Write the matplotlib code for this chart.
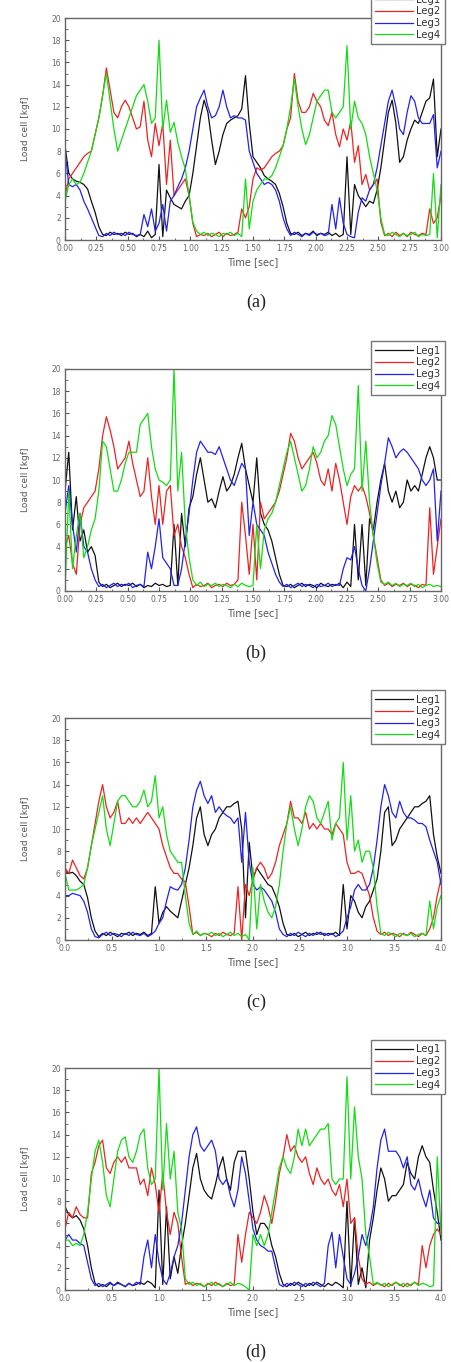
import matplotlib
matplotlib.use('Agg')
import matplotlib.pyplot as plt
import numpy as np
from matplotlib.ticker import MultipleLocator, FormatStrFormatter

# sample times (101 samples per record)
time_ab = np.arange(101) * 0.03
time_cd = np.arange(101) * 0.04

# ---- (a) ----
leg1_a = [8.5, 6.0, 5.5, 5.3, 5.2, 5.0, 4.6, 3.5, 2.5, 1.2,
          0.5, 0.4, 0.7, 0.5, 0.6, 0.4, 0.7, 0.5, 0.6, 0.3,
          0.5, 0.3, 0.8, 0.2, 0.5, 6.8, 0.3, 4.5, 3.8, 3.2,
          3.0, 2.8, 3.5, 4.0, 6.0, 8.5, 11.0, 12.6, 11.5, 9.0,
          6.8, 8.0, 9.5, 10.5, 10.8, 11.0, 11.2, 11.8, 14.8, 10.5,
          7.5, 7.0, 6.5, 5.8, 5.5, 5.3, 5.0, 4.2, 3.0, 1.5,
          0.6, 0.5, 0.7, 0.4, 0.6, 0.5, 0.8, 0.4, 0.6, 0.5,
          0.7, 0.4, 0.6, 0.3, 0.5, 7.5, 0.5, 5.0, 4.0, 3.5,
          3.0, 3.5, 3.3, 4.5, 6.5, 9.0, 11.5, 12.6, 10.5, 7.0,
          7.5, 9.0, 10.0, 10.8, 10.5, 11.5, 12.5, 12.8, 14.5, 7.5,
          10.0]
leg2_a = [4.0, 5.5, 6.0, 6.5, 7.0, 7.5, 7.8, 8.0, 9.5, 11.0,
          13.0, 15.5, 13.5, 11.5, 11.0, 12.0, 12.6, 12.0, 11.0, 10.0,
          10.2, 12.5, 9.0, 7.5, 10.5, 8.5, 10.5, 5.0, 9.0, 4.0,
          4.5, 5.0, 5.5, 4.0, 1.5, 0.3, 0.5, 0.4, 0.6, 0.3,
          0.5, 0.7, 0.3, 0.6, 0.4, 0.5, 0.7, 2.8, 2.0, 3.0,
          5.5, 6.5, 6.3, 6.5, 7.0, 7.5, 7.8, 8.0, 8.5, 10.0,
          11.0, 15.0, 12.5, 11.5, 11.5, 12.0, 13.2, 12.5, 12.0, 10.8,
          10.3, 11.5, 9.5, 8.4, 10.0, 9.0, 10.7, 7.0, 8.5, 5.0,
          5.9, 4.5, 5.0, 5.5, 1.6, 0.4, 0.6, 0.3, 0.7, 0.4,
          0.6, 0.3, 0.7, 0.5, 0.4, 0.6, 0.5, 2.8, 1.5, 2.0,
          4.0]
leg3_a = [8.0, 5.0, 4.8, 5.0, 4.5, 3.5, 2.8, 2.0, 1.2, 0.4,
          0.3, 0.6, 0.4, 0.7, 0.5, 0.6, 0.4, 0.7, 0.5, 0.4,
          0.5, 2.3, 1.2, 2.8, 0.8, 1.5, 3.2, 0.8, 3.5, 4.0,
          4.8, 5.5, 6.5, 8.0, 10.0, 12.0, 12.8, 13.5, 12.0, 11.0,
          11.2, 12.0, 13.5, 12.0, 11.0, 11.2, 11.0, 11.0, 10.8, 8.0,
          7.0, 6.0, 5.5, 5.0, 5.2, 5.0, 4.5, 3.5, 2.0, 1.0,
          0.4, 0.7, 0.5, 0.3, 0.6, 0.4, 0.7, 0.5, 0.6, 0.4,
          0.5, 3.2, 1.0, 3.8, 1.5, 0.5, 0.3, 0.2, 2.5, 3.8,
          3.5, 4.5, 5.0, 6.5, 8.5, 10.5, 12.5, 13.5, 12.0, 10.0,
          9.5, 11.5, 13.0, 12.5, 11.0, 10.5, 10.5, 10.5, 11.3, 6.5,
          8.0]
leg4_a = [3.5, 5.0, 5.5, 5.0, 5.2, 6.0, 7.0, 8.0, 9.5, 11.0,
          13.0, 15.0, 12.5, 10.0, 8.0, 9.0, 10.0, 11.0, 12.0, 13.0,
          13.5, 14.0, 12.5, 10.5, 11.0, 18.0, 10.0, 12.6, 9.7, 10.6,
          8.8, 7.5, 6.4, 4.0, 1.6, 0.8, 0.5, 0.7, 0.4, 0.6,
          0.5, 0.3, 0.6, 0.5, 0.7, 0.4, 0.6, 0.3, 5.5, 1.0,
          3.5, 4.5, 5.0, 5.5, 5.5, 5.8, 6.5, 7.5, 8.5, 10.0,
          12.0, 14.5, 12.0, 10.0, 8.6, 9.5, 11.0, 12.5, 13.0, 13.5,
          13.5, 11.5, 11.0, 11.5, 12.0, 17.5, 10.0, 12.5, 11.0, 10.5,
          9.5, 7.5, 6.0, 4.5, 2.0, 0.5, 0.4, 0.7, 0.5, 0.3,
          0.6, 0.4, 0.5, 0.7, 0.3, 0.5, 0.4, 0.5, 6.0, 0.2,
          5.0]

# ---- (b) ----
leg1_b = [9.0, 12.5, 5.5, 8.5, 4.5, 5.5, 3.5, 4.0, 3.2, 0.8,
          0.4, 0.6, 0.3, 0.5, 0.7, 0.4, 0.6, 0.5, 0.7, 0.4,
          0.6, 0.3, 0.5, 0.4, 0.7, 0.5, 0.6, 0.4, 0.5, 6.0,
          0.5, 7.0, 4.0, 7.5, 8.5, 10.5, 12.0, 10.0, 8.0, 8.3,
          7.5, 9.0, 10.3, 9.0, 9.5, 10.5, 12.0, 13.3, 11.0, 9.5,
          8.0, 12.0, 7.0, 6.0, 5.5, 4.5, 3.0, 1.5, 0.5, 0.4,
          0.6, 0.3, 0.5, 0.7, 0.4, 0.6, 0.5, 0.3, 0.7, 0.5,
          0.4, 0.6, 0.5, 0.7, 0.3, 0.8, 0.4, 6.0, 1.0, 6.0,
          0.5, 6.5, 5.5, 8.0, 10.0, 11.5, 9.0, 8.0, 9.0, 7.5,
          8.0, 10.0, 9.0, 9.5, 9.0, 10.5, 12.0, 13.0, 12.0, 10.0,
          10.0]
leg2_b = [4.0, 5.0, 2.5, 1.5, 6.0, 7.5, 8.0, 8.5, 9.0, 11.0,
          14.0, 15.7, 14.5, 13.0, 11.0, 11.5, 12.0, 13.5, 11.5, 10.0,
          8.5, 9.0, 12.0, 8.5, 6.0, 9.5, 6.0, 9.0, 9.5, 5.0,
          6.0, 4.0, 3.0, 1.5, 0.3, 0.6, 0.4, 0.5, 0.7, 0.3,
          0.5, 0.6, 0.4, 0.7, 0.5, 0.6, 1.0, 8.0, 5.0, 1.5,
          6.0, 1.0, 8.0, 6.5, 7.0, 7.5, 8.0, 9.0, 10.5, 12.0,
          14.2, 13.5, 12.0, 11.0, 11.5, 12.0, 12.5, 11.5, 10.0, 9.5,
          11.0, 9.0, 11.5, 10.0, 8.0, 6.0, 8.5, 9.5, 9.0, 9.5,
          8.5, 7.0, 5.0, 3.0, 1.0, 0.5, 0.7, 0.4, 0.6, 0.5,
          0.7, 0.4, 0.6, 0.5, 0.3, 0.6, 0.5, 7.5, 1.5, 4.0,
          6.5]
leg3_b = [7.0, 9.5, 6.0, 3.5, 7.0, 4.0, 3.5, 2.0, 1.0, 0.4,
          0.6, 0.3, 0.5, 0.7, 0.4, 0.6, 0.5, 0.7, 0.3, 0.5,
          0.6, 0.4, 3.5, 2.0, 4.0, 6.5, 3.0, 2.5, 2.0, 0.5,
          0.5, 2.0, 4.5, 7.0, 10.0, 12.5, 13.5, 13.0, 12.5, 12.5,
          12.3, 13.0, 12.0, 11.0, 10.0, 9.5, 10.5, 11.5, 11.0, 5.0,
          8.0, 6.0, 5.5, 5.0, 3.5, 2.5, 1.5, 0.8, 0.4, 0.6,
          0.3, 0.5, 0.7, 0.4, 0.6, 0.5, 0.3, 0.6, 0.4, 0.5,
          0.7, 0.4, 0.6, 0.5, 2.0, 3.0, 2.8, 4.0, 2.0, 0.5,
          0.0, 2.0, 4.5, 7.0, 9.5, 11.5, 13.8, 13.0, 12.0, 12.5,
          12.8, 12.5, 12.0, 11.5, 11.0, 10.0, 9.5, 10.0, 11.0, 4.5,
          9.0]
leg4_b = [0.0, 9.0, 2.0, 5.0, 7.0, 3.0, 4.0, 5.5, 6.5, 9.0,
          13.5, 13.0, 11.0, 9.0, 9.0, 10.0, 11.5, 12.5, 12.5, 12.5,
          15.0, 15.5, 16.0, 13.0, 11.0, 10.0, 9.8, 9.5, 10.0, 20.0,
          9.0, 12.5, 6.0, 3.0, 1.0, 0.5, 0.8, 0.4, 0.6, 0.5,
          0.7, 0.4, 0.6, 0.5, 0.3, 0.6, 0.4, 0.7, 0.5, 0.4,
          0.5, 6.0, 2.0, 5.5, 6.5, 7.0, 8.0, 9.5, 11.0, 12.5,
          13.5, 12.0, 10.5, 9.0, 9.5, 11.0, 13.0, 12.0, 12.5, 13.5,
          14.0, 15.8, 15.0, 13.0, 11.0, 9.5, 10.5, 11.0, 18.5, 9.0,
          13.5, 8.0, 5.0, 2.5, 0.8, 0.6, 0.8, 0.5, 0.7, 0.4,
          0.6, 0.5, 0.7, 0.4, 0.6, 0.3, 0.5, 0.6, 0.4, 0.5,
          0.4]

# ---- (c) ----
leg1_c = [6.2, 6.0, 6.1, 5.8, 5.3, 5.0, 3.8, 2.0, 0.8, 0.3,
          0.6, 0.4, 0.7, 0.5, 0.3, 0.6, 0.5, 0.7, 0.4, 0.6,
          0.5, 0.7, 0.4, 0.6, 4.8, 1.5, 2.5, 3.0, 2.6, 2.3,
          2.0, 3.5, 5.0, 6.5, 8.5, 11.0, 12.0, 9.5, 8.5, 9.5,
          10.0, 11.0, 11.5, 12.0, 12.0, 12.3, 12.5, 10.0, 2.0, 8.8,
          5.5, 6.5, 6.0, 5.5, 5.0, 4.8, 4.0, 3.0, 1.5, 0.5,
          0.4, 0.6, 0.3, 0.5, 0.7, 0.4, 0.6, 0.5, 0.7, 0.4,
          0.6, 0.5, 0.7, 0.4, 5.0, 1.0, 4.0, 3.5, 2.5, 2.0,
          3.0, 3.5, 4.5, 5.5, 8.0, 11.5, 12.0, 8.5, 9.0, 10.0,
          10.5, 11.0, 11.5, 12.0, 12.0, 12.3, 12.5, 13.0, 9.5, 7.5,
          6.0]
leg2_c = [6.5, 6.0, 7.2, 6.5, 5.8, 5.5, 6.5, 8.5, 10.5, 12.5,
          14.0, 12.0, 11.0, 11.5, 12.5, 10.5, 10.5, 11.0, 10.5, 11.0,
          10.5, 11.0, 11.5, 11.0, 10.5, 10.0, 8.5, 7.5, 6.5, 6.0,
          6.0, 5.5, 5.2, 3.0, 0.5, 0.7, 0.4, 0.6, 0.5, 0.3,
          0.6, 0.4, 0.7, 0.5, 0.4, 0.6, 4.8, 0.0, 5.0, 4.0,
          5.5, 6.5, 7.0, 6.5, 5.5, 6.0, 7.0, 8.5, 9.5, 10.5,
          12.5, 11.0, 11.0, 10.5, 11.5, 10.0, 10.5, 10.0, 10.5, 10.0,
          10.0, 9.5, 10.5, 10.0, 9.5, 7.0, 6.0, 6.0, 6.2, 6.0,
          5.0, 4.0, 2.0, 0.8, 0.5, 0.7, 0.4, 0.6, 0.5, 0.3,
          0.6, 0.4, 0.7, 0.5, 0.3, 0.6, 0.4, 1.0, 2.0, 4.0,
          5.5]
leg3_c = [4.0, 4.0, 4.2, 4.1, 4.0, 3.5, 2.5, 1.0, 0.3, 0.2,
          0.5, 0.7, 0.4, 0.6, 0.5, 0.3, 0.6, 0.4, 0.7, 0.5,
          0.4, 0.6, 0.3, 0.5, 0.8, 1.5, 2.0, 3.5, 4.8, 4.6,
          4.5, 5.0, 6.5, 9.0, 12.0, 13.5, 14.3, 13.0, 12.3, 13.0,
          11.5, 12.0, 11.5, 11.2, 11.0, 10.5, 11.0, 7.0, 11.5, 7.0,
          5.0, 4.5, 4.8, 4.5, 4.0, 3.5, 2.5, 1.0, 0.5, 0.3,
          0.6, 0.4, 0.7, 0.5, 0.3, 0.6, 0.4, 0.7, 0.5, 0.6,
          0.4, 0.6, 0.3, 0.5, 0.8, 2.0, 3.0, 4.5, 5.0, 4.5,
          4.5, 5.0, 6.5, 9.0, 12.0, 14.0, 13.0, 11.5, 11.0, 12.5,
          11.5, 11.0, 11.0, 10.8, 10.5, 10.5, 10.2, 9.0, 8.0, 7.0,
          5.0]
leg4_c = [6.0, 4.5, 4.5, 4.5, 4.7, 5.0, 6.5, 8.5, 10.0, 11.5,
          13.0, 10.0, 8.5, 10.5, 12.5, 13.0, 13.0, 12.5, 12.0, 12.0,
          12.5, 13.5, 12.0, 12.5, 14.8, 11.0, 12.0, 9.5, 8.0, 7.5,
          7.0, 7.0, 4.0, 1.5, 0.5, 0.8, 0.4, 0.6, 0.5, 0.7,
          0.4, 0.6, 0.3, 0.5, 0.7, 0.4, 0.6, 0.3, 0.5, 0.0,
          6.5, 1.0, 5.0, 3.5, 2.5, 2.0, 3.0, 5.0, 8.0, 10.5,
          12.0, 10.0, 8.5, 10.0, 12.0, 13.0, 12.5, 11.0, 10.5, 11.5,
          12.5, 9.0, 10.5, 11.0, 16.0, 9.0, 13.0, 8.0, 9.0, 7.0,
          8.0, 8.0, 6.5, 3.0, 0.6, 0.4, 0.7, 0.5, 0.3, 0.6,
          0.5, 0.4, 0.6, 0.3, 0.5, 0.6, 0.4, 3.5, 1.0, 3.0,
          4.0]

# ---- (d) ----
leg1_d = [7.5, 6.8, 6.5, 6.7, 6.3, 5.5, 4.0, 2.0, 0.6, 0.3,
          0.5, 0.3, 0.6, 0.4, 0.7, 0.5, 0.3, 0.6, 0.4, 0.5,
          0.7, 0.5, 0.8, 0.6, 0.2, 9.0, 0.5, 7.5, 1.0, 3.0,
          1.5, 4.0, 6.0, 8.5, 11.0, 12.3, 10.0, 9.0, 8.5, 8.2,
          9.5, 11.0, 12.0, 10.0, 9.0, 11.5, 12.5, 12.5, 12.5, 10.0,
          7.0, 5.0, 6.0, 6.0, 5.5, 4.0, 3.0, 1.5, 0.5, 0.3,
          0.6, 0.4, 0.7, 0.5, 0.3, 0.6, 0.4, 0.7, 0.5, 0.3,
          0.6, 0.4, 0.7, 0.5, 0.2, 8.0, 0.3, 6.5, 0.5, 2.0,
          0.2, 4.5, 6.5, 9.0, 11.0, 10.0, 8.0, 8.5, 8.5, 9.0,
          9.5, 11.5, 10.5, 10.0, 12.0, 13.0, 12.0, 11.5, 9.0, 7.0,
          4.5]
leg2_d = [5.5, 7.0, 6.5, 7.5, 6.8, 6.5, 6.5, 10.5, 11.5, 13.0,
          13.5, 11.0, 10.5, 11.5, 12.0, 11.5, 12.0, 11.0, 11.0, 11.0,
          9.5, 10.0, 8.5, 11.0, 9.5, 7.0, 10.5, 7.0, 5.0, 7.0,
          6.0, 3.0, 0.5, 0.7, 0.4, 0.6, 0.5, 0.3, 0.6, 0.4,
          0.7, 0.5, 0.3, 0.6, 0.4, 0.5, 5.0, 2.5, 5.0, 7.0,
          6.5, 6.0, 7.0, 8.5, 7.5, 6.0, 8.0, 10.5, 12.0, 14.0,
          12.5, 13.0, 12.0, 11.5, 12.0, 10.5, 9.5, 11.0, 10.0, 9.5,
          10.0, 9.0, 8.5, 9.5, 7.5, 10.0, 6.0, 6.5, 3.0, 1.0,
          0.5, 0.7, 0.4, 0.6, 0.5, 0.3, 0.6, 0.4, 0.7, 0.5,
          0.3, 0.6, 0.4, 0.7, 0.5, 4.0, 2.0, 4.0, 5.0, 5.5,
          5.0]
leg3_d = [4.5, 5.0, 4.5, 4.5, 4.2, 4.0, 2.5, 1.0, 0.4, 0.6,
          0.3, 0.5, 0.7, 0.4, 0.6, 0.5, 0.3, 0.6, 0.4, 0.7,
          0.5, 3.0, 4.5, 2.0, 5.0, 2.5, 1.0, 0.5, 1.5, 3.0,
          4.0, 6.0, 9.0, 12.0, 14.0, 14.7, 13.0, 12.5, 13.0, 13.5,
          12.5, 10.0, 9.5, 10.0, 8.5, 7.5, 9.0, 12.0, 10.5, 8.0,
          5.5, 4.5, 4.0, 3.8, 3.5, 3.5, 2.0, 0.5, 0.3, 0.6,
          0.4, 0.7, 0.5, 0.3, 0.6, 0.4, 0.7, 0.5, 0.3, 0.6,
          4.0, 5.2, 2.0, 5.0, 3.0, 1.0, 0.5, 1.5, 3.0, 5.0,
          4.0, 5.5, 7.5, 11.0, 13.5, 14.5, 12.5, 12.5, 12.5, 12.0,
          11.0, 12.0, 9.5, 9.0, 10.0, 8.5, 7.5, 9.0, 6.5, 6.0,
          6.0]
leg4_d = [4.5, 4.5, 4.0, 4.2, 4.0, 5.0, 7.0, 10.0, 12.5, 13.5,
          11.5, 8.5, 7.5, 10.0, 12.5, 13.5, 13.8, 12.0, 11.5, 12.5,
          14.0, 14.5, 11.0, 9.5, 10.0, 20.0, 9.0, 15.0, 10.0, 12.5,
          7.0, 5.5, 1.0, 0.5, 0.7, 0.4, 0.6, 0.3, 0.5, 0.7,
          0.4, 0.6, 0.3, 0.5, 0.7, 0.4, 0.6, 0.5, 0.3, 0.0,
          5.0, 4.0, 5.0, 4.0, 5.0, 7.0, 9.0, 11.0, 12.0, 11.0,
          10.5, 12.0, 14.5, 13.0, 14.5, 13.0, 13.5, 14.0, 14.5, 14.5,
          15.0, 10.0, 9.5, 10.0, 10.0, 19.2, 10.0, 16.5, 12.0, 10.0,
          5.0, 3.0, 0.5, 0.7, 0.4, 0.6, 0.3, 0.5, 0.7, 0.4,
          0.6, 0.3, 0.5, 0.7, 0.4, 0.6, 0.5, 0.3, 0.4, 12.0,
          5.0]

leg_names = ['Leg1', 'Leg2', 'Leg3', 'Leg4']
leg_colors = ['#111111', '#ee2222', '#2222ee', '#11dd11']
panel_labels = ['(a)', '(b)', '(c)', '(d)']

panels = [
    (time_ab, [leg1_a, leg2_a, leg3_a, leg4_a], 3.0),
    (time_ab, [leg1_b, leg2_b, leg3_b, leg4_b], 3.0),
    (time_cd, [leg1_c, leg2_c, leg3_c, leg4_c], 4.0),
    (time_cd, [leg1_d, leg2_d, leg3_d, leg4_d], 4.0),
]

W, H = 452, 1362
fig = plt.figure(figsize=(W / 100, H / 100), dpi=100)
fig.patch.set_facecolor('white')

tops = [18, 369, 718, 1068]
ax_h = 222
ax_left, ax_right = 65, 441
grey = '#555555'

for k, (t, series, tmax) in enumerate(panels):
    top = tops[k]
    ax = fig.add_axes([ax_left / W, 1 - (top + ax_h) / H, (ax_right - ax_left) / W, ax_h / H])
    for y, name, col in zip(series, leg_names, leg_colors):
        ax.plot(t, y, color=col, lw=0.9, label=name)
    ax.set_xlim(0, tmax)
    ax.set_ylim(0, 20)
    if tmax == 3.0:
        ax.xaxis.set_major_locator(MultipleLocator(0.25))
        ax.xaxis.set_minor_locator(MultipleLocator(0.125))
        ax.xaxis.set_major_formatter(FormatStrFormatter('%.2f'))
    else:
        ax.xaxis.set_major_locator(MultipleLocator(0.5))
        ax.xaxis.set_minor_locator(MultipleLocator(0.25))
        ax.xaxis.set_major_formatter(FormatStrFormatter('%.1f'))
    ax.yaxis.set_major_locator(MultipleLocator(2))
    ax.yaxis.set_minor_locator(MultipleLocator(1))
    ax.tick_params(which='both', direction='in', colors=grey, labelcolor='#666666',
                   labelsize=5.5, top=False, right=False)
    ax.tick_params(which='major', length=3, width=0.8, pad=3)
    ax.tick_params(which='minor', length=1.8, width=0.6)
    for sp in ax.spines.values():
        sp.set_color('#666666')
        sp.set_linewidth(1.0)
    ax.set_xlabel('Time [sec]', fontsize=7, color='#555555', labelpad=3)
    ax.set_ylabel('Load cell [kgf]', fontsize=6.5, color='#555555', labelpad=15)

    leg = ax.legend(loc='upper right', bbox_to_anchor=((445 - ax_left) / (ax_right - ax_left), 1 + 28 / ax_h),
                    borderaxespad=0, fontsize=7.2, frameon=True, fancybox=False, framealpha=1,
                    handlelength=3.8, handletextpad=0.3, labelspacing=0.18, borderpad=0.45)
    leg.get_frame().set_edgecolor('#777777')
    leg.get_frame().set_linewidth(1.0)
    for txt in leg.get_texts():
        txt.set_color('#333333')

    fig.text(256 / W, 1 - (top + 284) / H, panel_labels[k], ha='center', va='center',
             fontsize=13, family='Liberation Serif', color='#222222')

fig.savefig('out.png', dpi=100)
